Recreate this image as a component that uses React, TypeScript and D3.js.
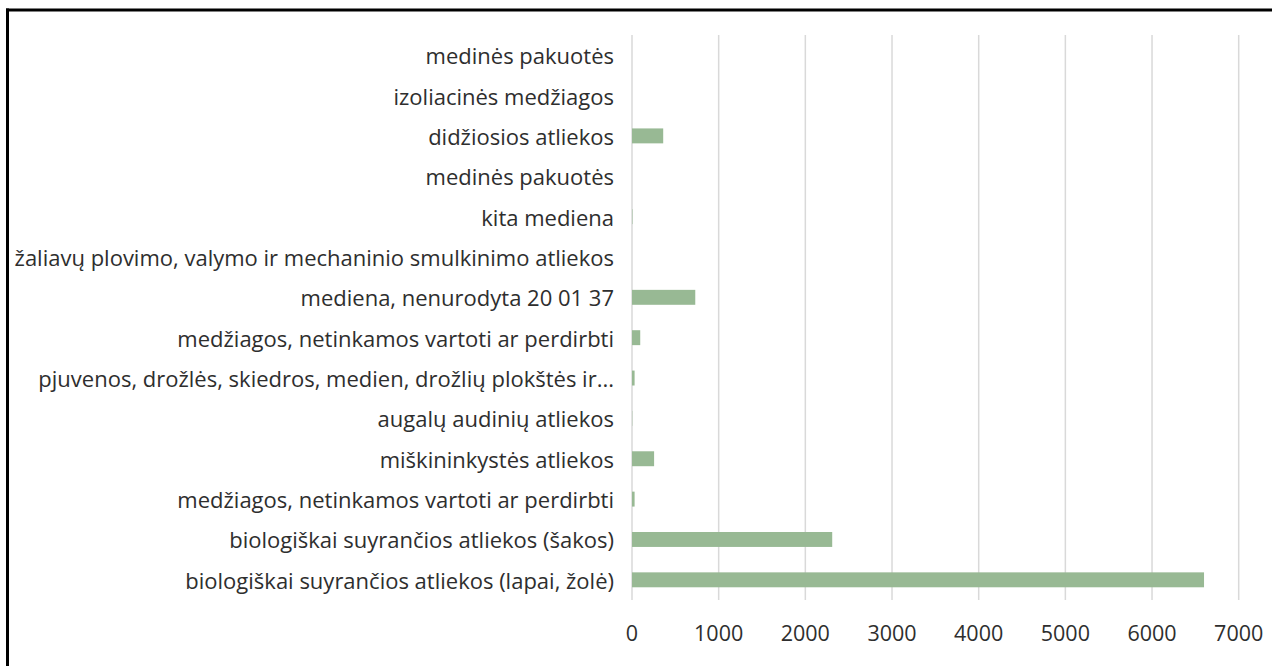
import React from "react";
import * as d3 from "d3";

const categories = [
  "medinės pakuotės",
  "izoliacinės medžiagos",
  "didžiosios atliekos",
  "medinės pakuotės",
  "kita mediena",
  "žaliavų plovimo, valymo ir mechaninio smulkinimo atliekos",
  "mediena, nenurodyta 20 01 37",
  "medžiagos, netinkamos vartoti ar perdirbti",
  "pjuvenos, drožlės, skiedros, medien, drožlių plokštės ir...",
  "augalų audinių atliekos",
  "miškininkystės atliekos",
  "medžiagos, netinkamos vartoti ar perdirbti",
  "biologiškai suyrančios atliekos (šakos)",
  "biologiškai suyrančios atliekos (lapai, žolė)",
];
const values = [0, 0, 360, 0, 5, 0, 730, 95, 30, 3, 255, 30, 2310, 6600];
const xTicks = [0, 1000, 2000, 3000, 4000, 5000, 6000, 7000];

const W = 1272;
const H = 666;
const FONT = "'Open Sans', sans-serif";

export default function App() {
  const x = d3.scaleLinear().domain([0, 7000]).range([632, 1238.7]);
  const idx = categories.map((_, i) => String(i));
  const y = d3.scaleBand<string>().domain(idx).range([35, 600]).paddingInner(0.63).paddingOuter(0.315);

  return (
    <svg width={W} height={H} style={{ position: "absolute", left: 0, top: 0, background: "#fff" }}>
      <rect x={0} y={0} width={W} height={H} fill="#fff" />
      <line x1={7.5} x2={7.5} y1={8.5} y2={H} stroke="#000" strokeWidth={3} />
      <line x1={6} x2={W} y1={10} y2={10} stroke="#000" strokeWidth={3} />
      {xTicks.map((t) => (
        <line key={"g" + t} x1={x(t)} x2={x(t)} y1={35} y2={600} stroke="#d9d9d9" strokeWidth={1.5} />
      ))}
      {values.map((v, i) => (
        <rect
          key={"b" + i}
          x={x(0)}
          y={y(String(i))}
          width={Math.max(0, x(v) - x(0))}
          height={y.bandwidth()}
          fill="#98b994"
        />
      ))}
      {categories.map((c, i) => (
        <text
          key={"l" + i}
          x={614}
          y={(y(String(i)) as number) + y.bandwidth() / 2}
          textAnchor="end"
          dominantBaseline="central"
          fontFamily={FONT}
          fontSize={22}
          fill="#2e2e2e"
        >
          {c}
        </text>
      ))}
      {xTicks.map((t) => (
        <text
          key={"t" + t}
          x={x(t)}
          y={632}
          textAnchor="middle"
          dominantBaseline="central"
          fontFamily={FONT}
          fontSize={21.5}
          fill="#2e2e2e"
        >
          {t}
        </text>
      ))}
    </svg>
  );
}
